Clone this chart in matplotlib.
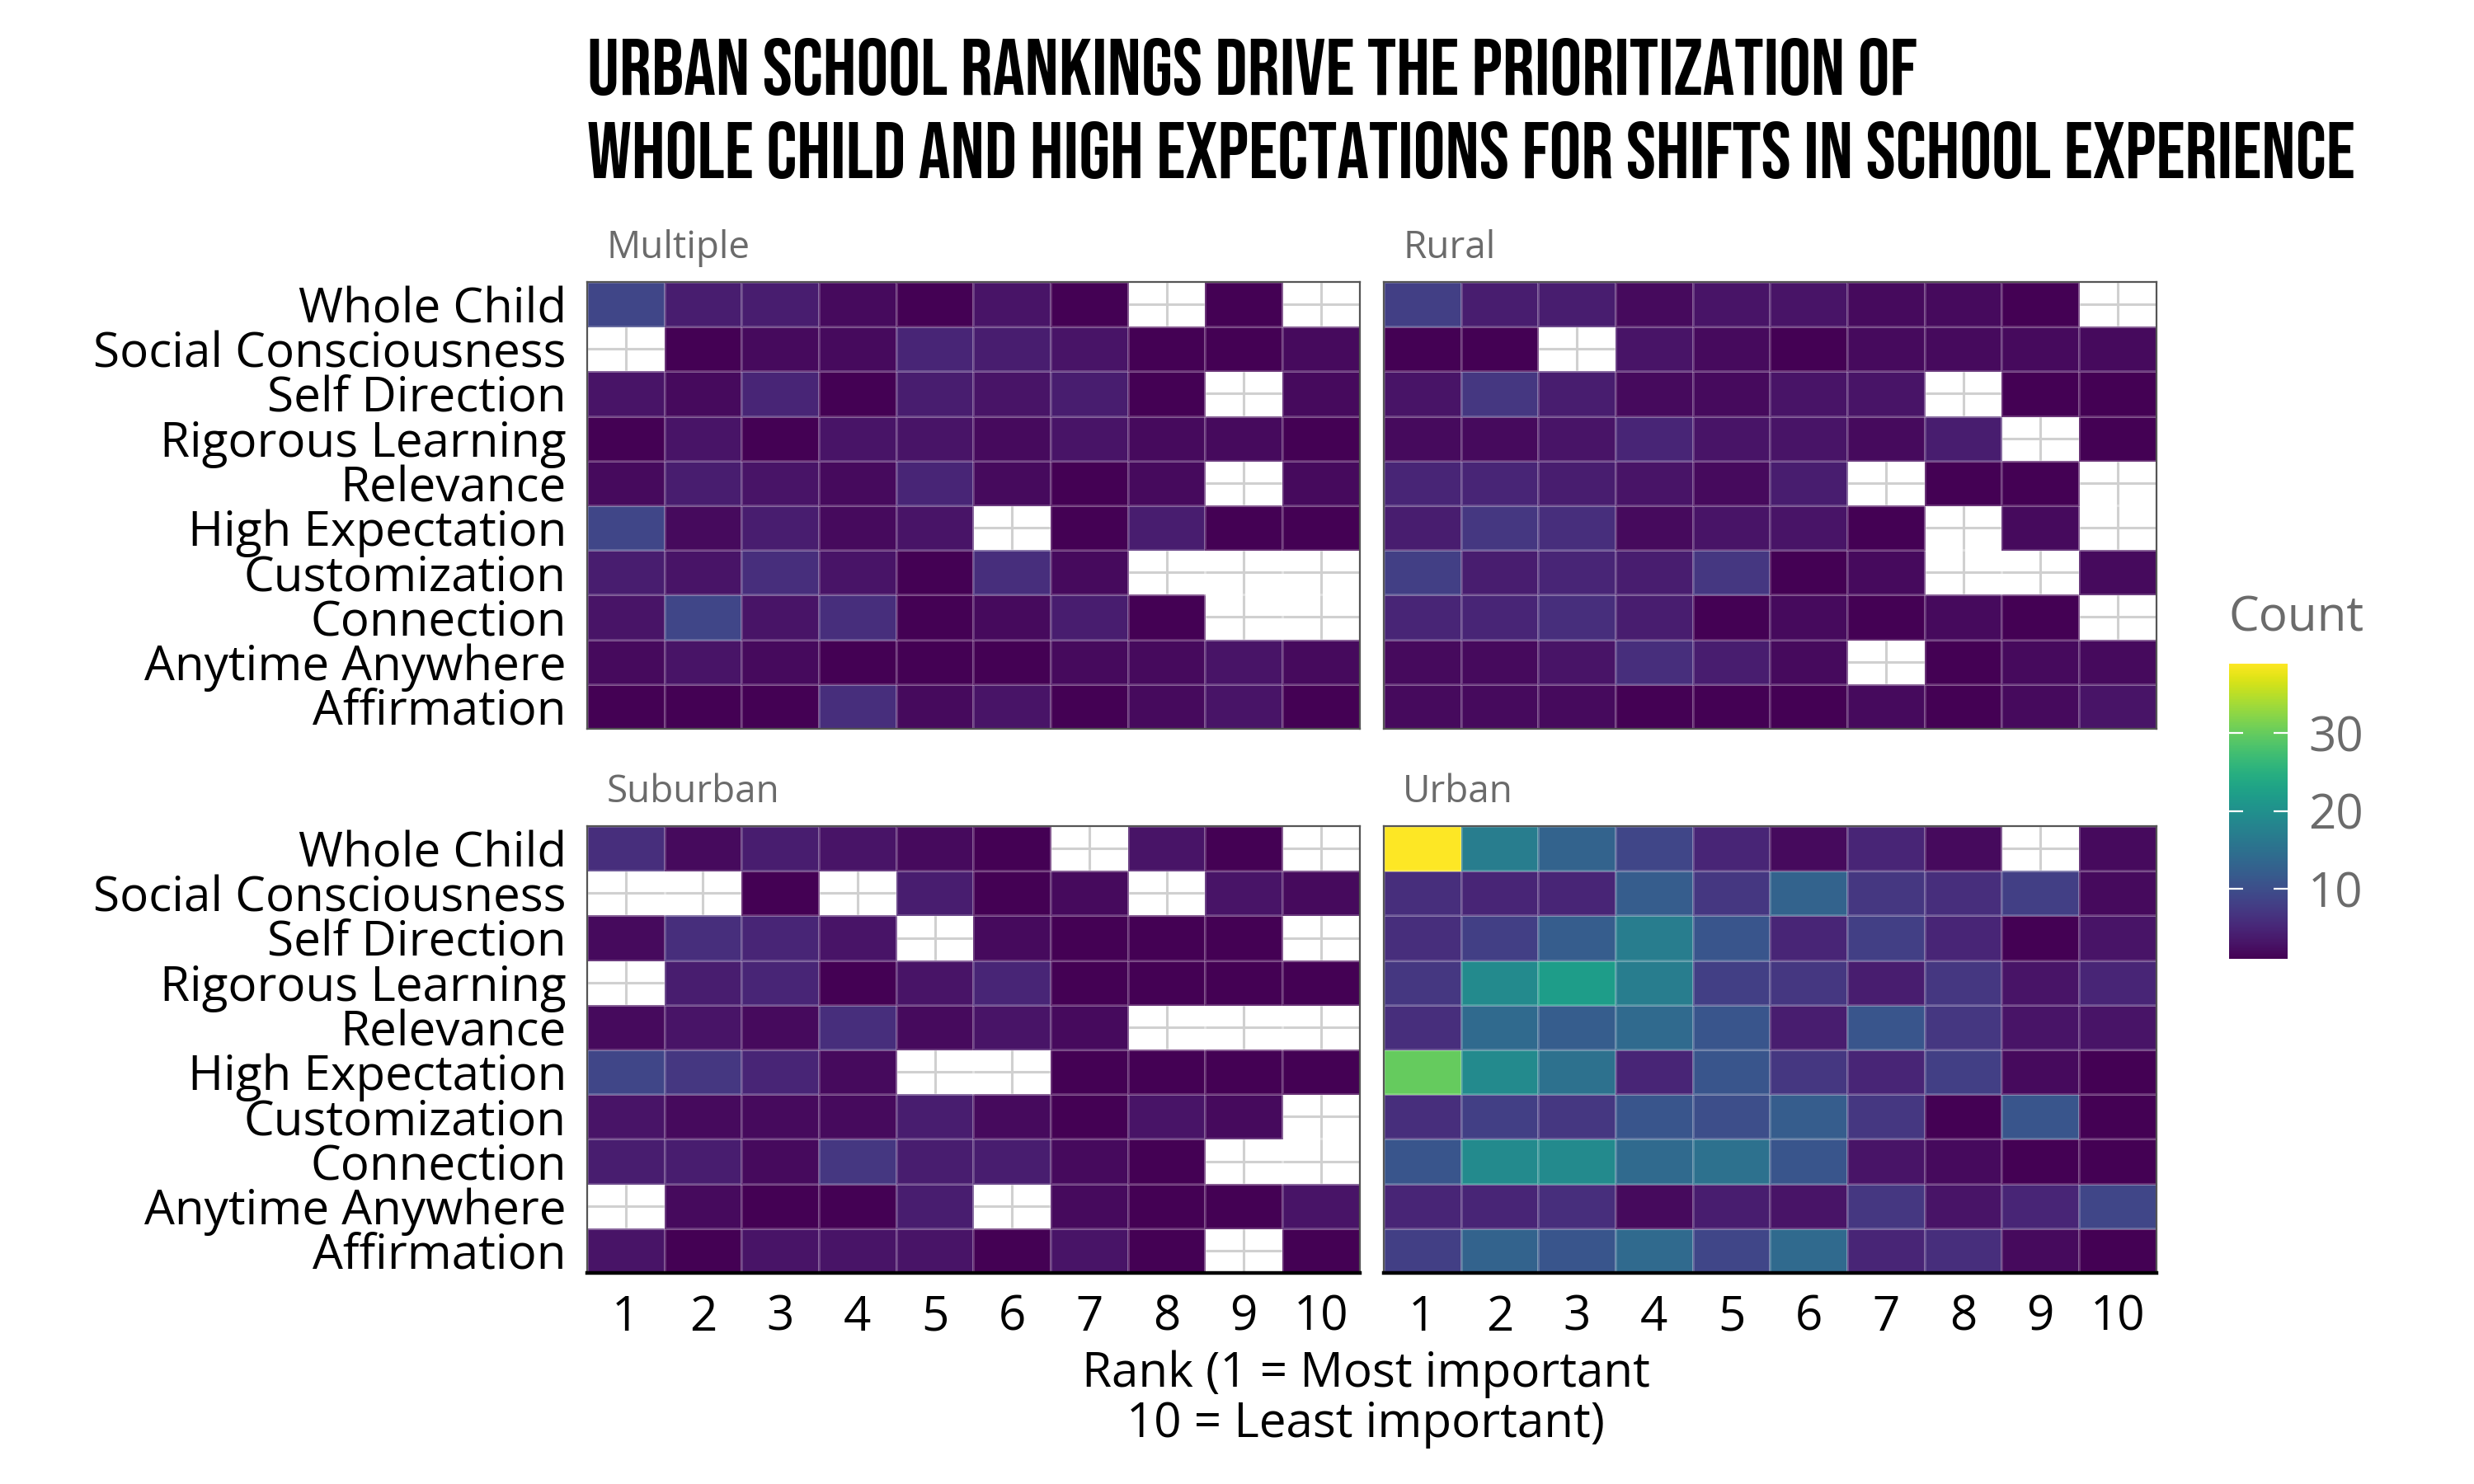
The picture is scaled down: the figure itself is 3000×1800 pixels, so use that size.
"""Heatmap facets: school-experience shift rankings by locale."""

import matplotlib

matplotlib.use("Agg")
import matplotlib.pyplot as plt  # noqa: E402
import numpy as np  # noqa: E402
from matplotlib import font_manager  # noqa: E402

nan = np.nan

# rows listed top to bottom, columns are ranks 1..10 (nan = no responses)
shifts = ["Whole Child", "Social Consciousness", "Self Direction",
          "Rigorous Learning", "Relevance", "High Expectation",
          "Customization", "Connection", "Anytime Anywhere", "Affirmation"]
ranks = list(range(1, 11))

multiple = [
    [9, 4, 4, 2, 1, 3, 1, nan, 1, nan],
    [nan, 1, 2, 2, 5, 4, 3, 1, 1, 2],
    [3, 2, 5, 1, 4, 3, 4, 1, nan, 2],
    [1, 3, 1, 3, 3, 2, 3, 2, 2, 1],
    [2, 4, 3, 2, 5, 2, 1, 2, nan, 2],
    [9, 2, 4, 2, 3, nan, 1, 4, 1, 1],
    [4, 3, 6, 3, 1, 6, 2, nan, nan, nan],
    [3, 9, 3, 6, 1, 2, 4, 1, nan, nan],
    [2, 3, 2, 1, 1, 1, 2, 2, 3, 2],
    [1, 1, 1, 6, 2, 3, 1, 2, 3, 1],
]
rural = [
    [8, 4, 4, 2, 3, 3, 2, 2, 1, nan],
    [1, 1, nan, 3, 2, 1, 2, 2, 2, 2],
    [3, 7, 4, 2, 2, 3, 3, nan, 1, 1],
    [2, 2, 3, 5, 3, 3, 2, 4, nan, 1],
    [5, 5, 4, 3, 2, 4, nan, 1, 1, nan],
    [4, 7, 6, 2, 3, 3, 1, nan, 2, nan],
    [8, 4, 5, 4, 7, 1, 2, nan, nan, 2],
    [5, 5, 6, 4, 1, 2, 1, 2, 1, nan],
    [2, 2, 3, 6, 4, 2, nan, 1, 2, 2],
    [2, 2, 2, 1, 1, 1, 2, 1, 2, 3],
]
suburban = [
    [6, 2, 4, 3, 2, 1, nan, 3, 1, nan],
    [nan, nan, 1, nan, 4, 1, 2, nan, 3, 2],
    [2, 6, 5, 3, nan, 2, 1, 1, 1, nan],
    [nan, 4, 5, 1, 3, 5, 1, 1, 1, 1],
    [2, 3, 2, 6, 2, 3, 2, nan, nan, nan],
    [9, 7, 5, 2, nan, nan, 1, 1, 1, 1],
    [3, 2, 2, 2, 4, 2, 1, 3, 2, nan],
    [4, 4, 2, 7, 4, 4, 2, 1, nan, nan],
    [nan, 2, 1, 1, 4, nan, 2, 1, 1, 3],
    [3, 1, 3, 3, 3, 1, 3, 1, nan, 1],
]
urban = [
    [39, 17, 13, 9, 5, 2, 5, 2, nan, 2],
    [6, 5, 5, 12, 7, 13, 7, 6, 8, 2],
    [6, 8, 12, 17, 11, 5, 8, 5, 1, 3],
    [7, 19, 22, 17, 8, 7, 4, 7, 3, 5],
    [6, 14, 12, 14, 11, 4, 11, 7, 3, 3],
    [30, 19, 15, 5, 11, 7, 5, 8, 2, 1],
    [6, 8, 7, 11, 10, 12, 7, 1, 11, 1],
    [11, 19, 19, 14, 15, 11, 3, 2, 1, 1],
    [5, 5, 6, 2, 4, 3, 7, 3, 5, 9],
    [8, 13, 11, 14, 9, 14, 5, 6, 2, 1],
]
panels = ["Multiple", "Rural", "Suburban", "Urban"]
count_min, count_max = 1, 39

title_lines = ["URBAN SCHOOL RANKINGS DRIVE THE PRIORITIZATION OF",
               "WHOLE CHILD AND HIGH EXPECTATIONS FOR SHIFTS IN SCHOOL EXPERIENCE"]


def narrow_bold_font():
    """Most condensed bold face on the system (title stands in for Bebas Neue)."""
    wanted = ["bebas", "narrow-bold", "narrowbold", "condensed-bold",
              "condensedbold", "sanscondensed-bold"]
    files = font_manager.findSystemFonts()
    for key in wanted:
        for f in files:
            if key in f.lower().replace(" ", ""):
                return font_manager.FontProperties(fname=f)
    return font_manager.FontProperties(family="DejaVu Sans", weight="bold",
                                       stretch="condensed")


plt.rcParams["font.family"] = ["Open Sans", "DejaVu Sans"]
GREY = "#6b6b6b"

fig = plt.figure(figsize=(15, 9), dpi=200)
W, H = 0.3123, 0.3011
boxes = {"Multiple": (0.2373, 0.5089), "Rural": (0.5593, 0.5089),
         "Suburban": (0.2373, 0.1422), "Urban": (0.5593, 0.1422)}
data = {"Multiple": multiple, "Rural": rural, "Suburban": suburban, "Urban": urban}

edges = np.arange(0.5, 11.5, 1.0)
mesh = None
for name in panels:
    x0, y0 = boxes[name]
    ax = fig.add_axes([x0, y0, W, H])
    vals = np.ma.masked_invalid(np.array(data[name], dtype=float)[::-1])
    ax.set_axisbelow(True)
    ax.grid(True, color="#d0d0d0", lw=1.1)
    mesh = ax.pcolormesh(edges, edges, vals, cmap="viridis",
                         vmin=count_min, vmax=count_max,
                         edgecolors=(1, 1, 1, 0.2), linewidth=0.4)
    ax.set_xlim(0.5, 10.5)
    ax.set_ylim(0.5, 10.5)
    ax.set_xticks(ranks)
    ax.set_yticks(range(1, 11))
    ax.tick_params(length=0, labelsize=21, colors="black")
    bottom = name in ("Suburban", "Urban")
    left = name in ("Multiple", "Suburban")
    ax.set_xticklabels([str(r) for r in ranks] if bottom else [])
    ax.set_yticklabels(shifts[::-1] if left else [])
    ax.tick_params(axis="x", pad=9)
    ax.tick_params(axis="y", pad=9)
    for sp in ax.spines.values():
        sp.set_color("#555555")
        sp.set_linewidth(0.8)
    if bottom:
        ax.spines["bottom"].set_color("black")
        ax.spines["bottom"].set_linewidth(1.6)
    ax.text(0.025, 1.075, name, transform=ax.transAxes, fontsize=16.5,
            color=GREY, ha="left", va="center")

# colour bar
cax = fig.add_axes([0.901, 0.354, 0.0237, 0.199])
cb = fig.colorbar(mesh, cax=cax, ticks=[10, 20, 30])
cb.outline.set_visible(False)
cax.tick_params(direction="in", color="white", length=6, width=0.8,
                left=True, right=True, labelcolor=GREY, labelsize=21, pad=9)
fig.text(0.901, 0.583, "Count", fontsize=21, color=GREY, ha="left", va="center")

fig.text(0.552, 0.057, "Rank (1 = Most important\n10 = Least important)",
         fontsize=21, ha="center", va="center", multialignment="center",
         linespacing=1.05, color="black")

# title: size the condensed face so the long line spans the reference width
tfont = narrow_bold_font()
tfont.set_weight("bold")
titles = [fig.text(0.2373, yb, line, fontproperties=tfont, va="baseline", ha="left")
          for line, yb in zip(title_lines, [0.936, 0.880])]
for t in titles:
    t.set_fontsize(20)
fig.canvas.draw()
width_px = titles[1].get_window_extent().width
size = 20 * 2138 / width_px
for t in titles:
    t.set_fontsize(size)

fig.savefig("out.png", dpi=200, facecolor="white")
